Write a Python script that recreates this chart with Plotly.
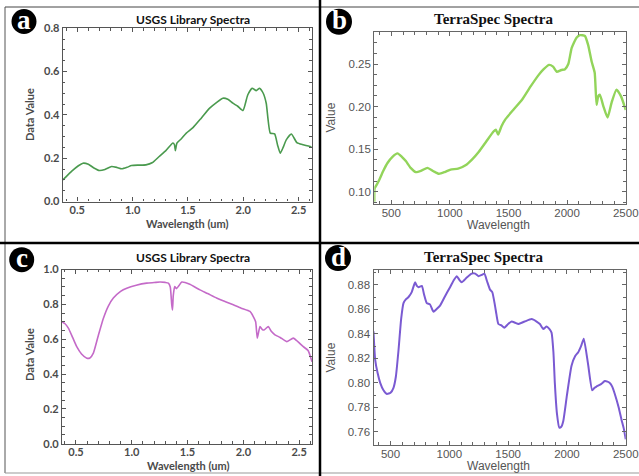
import plotly.graph_objects as go

W, H = 639, 476

# ---------------- data ----------------
a_wl = [0.37, 0.386, 0.45, 0.51, 0.551, 0.60, 0.65, 0.70, 0.75, 0.81, 0.86, 0.90, 0.95, 0.99, 1.05,
        1.12, 1.18, 1.24, 1.30, 1.364, 1.378, 1.386, 1.40, 1.44, 1.485, 1.545, 1.62, 1.696, 1.76,
        1.816, 1.86, 1.906, 1.95, 1.997, 2.04, 2.08, 2.117, 2.147, 2.18, 2.207, 2.244, 2.283,
        2.31, 2.334, 2.36, 2.388, 2.434, 2.484, 2.54, 2.618]
a_val = [0.10, 0.108, 0.14, 0.165, 0.177, 0.172, 0.155, 0.143, 0.148, 0.162, 0.157, 0.151, 0.158, 0.166, 0.168,
         0.169, 0.180, 0.208, 0.235, 0.27, 0.262, 0.235, 0.27, 0.29, 0.316, 0.341, 0.385, 0.431, 0.458,
         0.477, 0.472, 0.454, 0.44, 0.42, 0.492, 0.523, 0.512, 0.523, 0.50, 0.454, 0.316, 0.312,
         0.26, 0.223, 0.25, 0.285, 0.312, 0.272, 0.262, 0.252]

b_wl = [355, 358, 375, 398, 430, 469, 510, 553, 590, 624, 665, 709, 760, 808, 860, 907, 955, 1006,
        1070, 1133, 1190, 1247, 1310, 1374, 1392, 1411, 1440, 1473, 1540, 1615, 1690, 1756, 1800,
        1846, 1880, 1912, 1950, 1982, 2010, 2039, 2080, 2110, 2152, 2180, 2209, 2235, 2251, 2265,
        2279, 2310, 2345, 2380, 2421, 2460, 2500]
b_val = [0.088, 0.104, 0.108, 0.114, 0.124, 0.134, 0.141, 0.145, 0.141, 0.136, 0.128, 0.123, 0.125, 0.128,
         0.124, 0.121, 0.123, 0.126, 0.127, 0.131, 0.138, 0.147, 0.159, 0.171, 0.173, 0.167, 0.177,
         0.185, 0.196, 0.208, 0.224, 0.237, 0.244, 0.249, 0.247, 0.241, 0.243, 0.244, 0.250, 0.269,
         0.281, 0.284, 0.283, 0.272, 0.253, 0.240, 0.202, 0.212, 0.214, 0.200, 0.187, 0.205, 0.220,
         0.212, 0.196]

c_wl = [0.375, 0.40, 0.432, 0.47, 0.507, 0.55, 0.597, 0.625, 0.656, 0.70, 0.746, 0.79, 0.835, 0.90,
        0.955, 1.04, 1.134, 1.20, 1.253, 1.30, 1.328, 1.345, 1.358, 1.365, 1.372, 1.385, 1.40, 1.42,
        1.448, 1.52, 1.611, 1.68, 1.76, 1.84, 1.91, 1.98, 2.059, 2.089, 2.11, 2.125, 2.149, 2.17,
        2.185, 2.224, 2.25, 2.283, 2.33, 2.388, 2.447, 2.49, 2.537, 2.58, 2.615]
c_val = [0.70, 0.69, 0.663, 0.61, 0.557, 0.515, 0.491, 0.492, 0.52, 0.62, 0.72, 0.79, 0.836, 0.875,
         0.893, 0.910, 0.922, 0.925, 0.928, 0.926, 0.922, 0.90, 0.80, 0.768, 0.85, 0.902, 0.89, 0.905,
         0.928, 0.915, 0.883, 0.862, 0.836, 0.815, 0.797, 0.778, 0.759, 0.73, 0.70, 0.606, 0.672,
         0.655, 0.653, 0.672, 0.645, 0.625, 0.610, 0.586, 0.606, 0.585, 0.557, 0.535, 0.47]

d_wl = [355, 358, 369, 390, 412, 440, 469, 500, 525, 545, 568, 590, 610, 630, 653, 680, 709, 724, 738,
        766, 785, 808, 835, 865, 890, 921, 960, 1006, 1040, 1063, 1085, 1105, 1150, 1190, 1220, 1247,
        1275, 1298, 1320, 1346, 1365, 1388, 1400, 1417, 1440, 1468, 1500, 1530, 1560, 1587, 1640,
        1700, 1742, 1770, 1799, 1827, 1850, 1869, 1885, 1897, 1915, 1935, 1950, 1969, 2000, 2039,
        2070, 2096, 2120, 2143, 2180, 2215, 2235, 2251, 2290, 2322, 2345, 2364, 2385, 2407, 2440,
        2464, 2485, 2500]
d_val = [0.842, 0.836, 0.819, 0.808, 0.800, 0.794, 0.791, 0.792, 0.796, 0.805, 0.827, 0.852, 0.865,
         0.868, 0.870, 0.874, 0.882, 0.879, 0.878, 0.879, 0.872, 0.865, 0.864, 0.858, 0.860, 0.863,
         0.870, 0.878, 0.884, 0.887, 0.884, 0.882, 0.886, 0.889, 0.889, 0.887, 0.888, 0.889, 0.883,
         0.876, 0.874, 0.863, 0.856, 0.848, 0.847, 0.845, 0.848, 0.850, 0.849, 0.848, 0.850, 0.852,
         0.850, 0.848, 0.844, 0.846, 0.844, 0.841, 0.825, 0.800, 0.775, 0.7635, 0.764, 0.769, 0.790,
         0.814, 0.822, 0.825, 0.830, 0.836, 0.815, 0.794, 0.796, 0.797, 0.799, 0.8015, 0.801, 0.800,
         0.797, 0.791, 0.780, 0.770, 0.762, 0.754]

# tick values / labels
a_yticks = [0.0, 0.2, 0.4, 0.6, 0.8]
c_yticks = [0.0, 0.2, 0.4, 0.6, 0.8, 1.0]
ac_xticks = [0.5, 1.0, 1.5, 2.0, 2.5]
bd_xticks = [500, 1000, 1500, 2000, 2500]
b_yticks = [0.10, 0.15, 0.20, 0.25]
d_yticks = [0.76, 0.78, 0.80, 0.82, 0.84, 0.86, 0.88]

usgs_title = "USGS Library Spectra"
terra_title = "TerraSpec Spectra"
panel_letters = ["a", "b", "c", "d"]


# ---------------- helpers ----------------
def X(px):
    return px / W


def Y(py):
    return 1 - py / H


fig = go.Figure()

panels = [
    dict(x=a_wl, y=a_val, color="#4a9a4e", width=1.6, xd=(62.7, 311.7), yd=(28.3, 201.5),
         xr=[0.368, 2.618], yr=[0.0, 0.8], yt=a_yticks, xt=ac_xticks, style="usgs",
         yminor=0.05, xminor=0.1, yfmt=".1f", xfmt=".1f"),
    dict(x=b_wl, y=b_val, color="#92d45a", width=2.4, xd=(374.3, 625.8), yd=(32.0, 204.0),
         xr=[355, 2500.5], yr=[0.0855, 0.2877], yt=b_yticks, xt=bd_xticks, style="terra",
         yminor=0.0125, xminor=100, yfmt=".2f", xfmt="d"),
    dict(x=c_wl, y=c_val, color="#c46ac8", width=1.6, xd=(62.0, 312.0), yd=(269.5, 443.7),
         xr=[0.375, 2.615], yr=[0.0, 1.0], yt=c_yticks, xt=ac_xticks, style="usgs",
         yminor=0.05, xminor=0.1, yfmt=".1f", xfmt=".1f"),
    dict(x=d_wl, y=d_val, color="#7a5ad2", width=2.0, xd=(373.5, 625.8), yd=(270.0, 445.0),
         xr=[355, 2500.5], yr=[0.7494, 0.892], yt=d_yticks, xt=bd_xticks, style="terra",
         yminor=0.01, xminor=100, yfmt=".2f", xfmt="d"),
]

layout_axes = {}
for i, p in enumerate(panels, start=1):
    xa = "x" if i == 1 else f"x{i}"
    ya = "y" if i == 1 else f"y{i}"
    fig.add_trace(go.Scatter(x=p["x"], y=p["y"], mode="lines", xaxis=xa, yaxis=ya,
                             line=dict(color=p["color"], width=p["width"], shape="spline",
                                       smoothing=0.5),
                             showlegend=False, hoverinfo="skip", cliponaxis=True))
    if p["style"] == "usgs":
        tfont = dict(family="Lato, Open Sans, sans-serif", size=11, color="#4a4a4a", weight="bold")
        lc = "#555555"
    else:
        tfont = dict(family="Liberation Sans, Arial, sans-serif", size=11.5, color="#555555")
        lc = "#666666"
    common = dict(showline=True, linecolor=lc, linewidth=1.2, mirror="ticks", ticks="inside",
                  ticklen=4, tickwidth=1, tickcolor=lc, showgrid=False, zeroline=False,
                  tickfont=tfont, fixedrange=True, automargin=False)
    layout_axes["xaxis" if i == 1 else f"xaxis{i}"] = dict(
        common, domain=[X(p["xd"][0]), X(p["xd"][1])], range=p["xr"], anchor=ya,
        tickvals=p["xt"], tickformat=p["xfmt"], ticklabelstandoff=-2,
        minor=dict(dtick=p["xminor"], ticks="inside", ticklen=2.5, tickcolor=lc, showgrid=False))
    layout_axes["yaxis" if i == 1 else f"yaxis{i}"] = dict(
        common, domain=[Y(p["yd"][1]), Y(p["yd"][0])], range=p["yr"], anchor=xa,
        tickvals=p["yt"], tickformat=p["yfmt"],
        minor=dict(dtick=p["yminor"], ticks="inside", ticklen=2.5, tickcolor=lc, showgrid=False))

fig.update_layout(**layout_axes)

ann = []
usgs_font = dict(family="Lato, Open Sans, sans-serif", size=11, color="#4a4a4a", weight="bold")
terra_font = dict(family="Liberation Sans, Arial, sans-serif", size=12, color="#555555")


def text(px, py, s, font, angle=0):
    ann.append(dict(x=X(px), y=Y(py), xref="paper", yref="paper", text=s, showarrow=False,
                    xanchor="center", yanchor="middle", font=font, textangle=angle))


# panel titles
text(193, 19.5, usgs_title, dict(family="Lato, Open Sans, sans-serif", size=12, color="#111111",
                                 weight="bold"))
text(494, 19.5, terra_title, dict(family="Liberation Serif, Times New Roman, serif", size=15,
                                  color="#111111", weight="bold"))
text(193, 257.5, usgs_title, dict(family="Lato, Open Sans, sans-serif", size=12, color="#111111",
                                  weight="bold"))
text(484, 256.5, terra_title, dict(family="Liberation Serif, Times New Roman, serif", size=15,
                                   color="#111111", weight="bold"))

# axis titles
text(29, 115, "Data Value", usgs_font, -90)
text(187, 223, "Wavelength (um)", usgs_font)
text(29, 355, "Data Value", usgs_font, -90)
text(188, 465, "Wavelength (um)", usgs_font)
text(330.5, 118, "Value", terra_font, -90)
text(499, 224.5, "Wavelength", terra_font)
text(330.5, 358, "Value", terra_font, -90)
text(499, 466, "Wavelength", terra_font)

# panel letter badges
badges = [(24, 21.5, 12.5), (339, 21.7, 13), (21.7, 259.7, 12.5), (338, 258, 13)]
shapes = []
for (cx, cy, r), letter in zip(badges, panel_letters):
    shapes.append(dict(type="circle", xref="paper", yref="paper", x0=X(cx - r), x1=X(cx + r),
                       y0=Y(cy + r), y1=Y(cy - r), fillcolor="#000000", line=dict(width=0)))
    text(cx, cy - 1.5, f"<b>{letter}</b>", dict(family="Liberation Serif, Times New Roman, serif",
                                               size=27, color="#ffffff"))

# frame / separators
shapes += [
    dict(type="line", xref="paper", yref="paper", x0=X(5), x1=X(639), y0=Y(7), y1=Y(7),
         line=dict(color="#444444", width=1)),
    dict(type="line", xref="paper", yref="paper", x0=X(5), x1=X(5), y0=Y(7), y1=Y(473),
         line=dict(color="#555555", width=1)),
    dict(type="line", xref="paper", yref="paper", x0=X(5), x1=X(639), y0=Y(473), y1=Y(473),
         line=dict(color="#999999", width=1)),
    dict(type="line", xref="paper", yref="paper", x0=X(320), x1=X(320), y0=Y(0), y1=Y(476),
         line=dict(color="#000000", width=2.5)),
    dict(type="line", xref="paper", yref="paper", x0=X(0), x1=X(639), y0=Y(243), y1=Y(243),
         line=dict(color="#000000", width=2.5)),
]

fig.update_layout(width=W, height=H, margin=dict(l=0, r=0, t=0, b=0, autoexpand=False),
                  paper_bgcolor="white", plot_bgcolor="white", annotations=ann, shapes=shapes,
                  showlegend=False)

fig.write_html("out.html", config=dict(displayModeBar=False))
